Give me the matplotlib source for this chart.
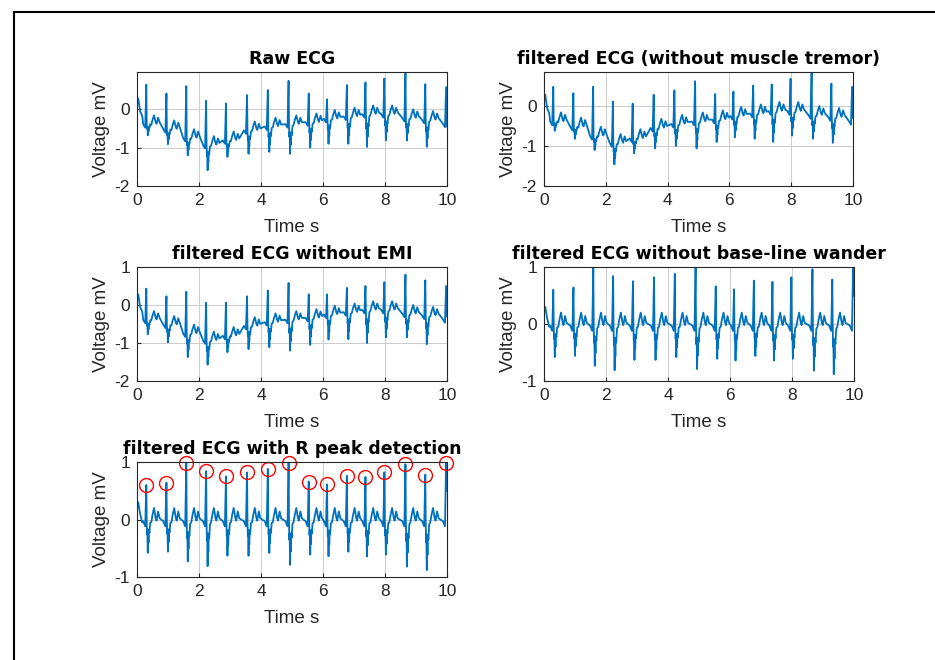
import numpy as np
import matplotlib.pyplot as plt
from matplotlib.lines import Line2D

plt.rcParams['font.family'] = ['Liberation Sans', 'DejaVu Sans']
plt.rcParams['axes.unicode_minus'] = False

# R peak times (s)
beat_t = [0.30, 0.95, 1.59, 2.23, 2.87, 3.55, 4.22, 4.89, 5.54, 6.13,
          6.77, 7.37, 7.98, 8.66, 9.30, 9.97]

# baseline-free ECG: R peak heights and S troughs (mV)
r_clean = [0.60, 0.64, 0.98, 0.84, 0.75, 0.82, 0.88, 0.99, 0.66, 0.61,
           0.76, 0.74, 0.82, 0.96, 0.78, 0.99]
s_clean = [-0.58, -0.56, -0.73, -0.81, -0.63, -0.63, -0.58, -0.79, -0.61, -0.64,
           -0.56, -0.64, -0.61, -0.82, -0.88, -0.60]

# baseline level of each beat (wander), raw / tremor / EMI panels
base_wander = [-0.36, -0.49, -0.72, -0.90, -0.78, -0.52, -0.42, -0.36, -0.31, -0.22,
               -0.16, -0.10, -0.10, -0.20, -0.25, -0.35]

# raw ECG peaks / troughs (mV)
r_raw = [0.64, 0.41, 0.60, 0.22, 0.15, 0.37, 0.50, 0.74, 0.41, 0.26,
         0.63, 0.70, 0.80, 0.97, 0.65, 0.58]
s_raw = [-0.68, -0.91, -1.20, -1.59, -1.24, -1.16, -1.11, -1.16, -1.00, -0.90,
         -0.90, -0.98, -0.81, -0.81, -0.98, -0.60]

# without muscle tremor
r_tremor = [0.48, 0.32, 0.48, 0.11, 0.06, 0.28, 0.39, 0.62, 0.30, 0.36,
            0.51, 0.54, 0.68, 0.83, 0.56, 0.48]
s_tremor = [-0.62, -0.82, -1.10, -1.46, -1.18, -1.06, -1.00, -1.06, -0.90, -0.78,
            -0.82, -0.90, -0.74, -0.82, -0.92, -0.50]

# without EMI
r_emi = [0.43, 0.23, 0.35, 0.06, 0.06, 0.23, 0.38, 0.58, 0.28, 0.28,
         0.45, 0.50, 0.60, 0.80, 0.65, 0.50]
s_emi = [-0.77, -0.98, -1.37, -1.57, -1.24, -1.16, -1.11, -1.20, -1.05, -0.91,
         -0.90, -1.00, -0.85, -0.85, -1.03, -0.50]

# one heartbeat, seconds from the R peak: fixed level, share of S depth
tmpl_dt = [-0.10, -0.035, 0.0, 0.014, 0.026, 0.034, 0.048, 0.060, 0.072, 0.086,
           0.100, 0.125, 0.16, 0.20, 0.25, 0.30, 0.33, 0.38, 0.43]
tmpl_v = [-0.03, -0.12, 0.0, -0.05, 0.0, 0.0, 0.0, 0.0, 0.0, 0.0,
          0.0, 0.0, -0.05, 0.08, 0.20, 0.03, -0.02, 0.14, 0.02]
tmpl_s = [0, 0, 0, 0, 0.45, 0.30, 1.0, 0.45, 0.70, 0.30,
          0.40, 0.10, 0, 0, 0, 0, 0, 0, 0]

# start of the record and the last sample at t = 10 s
lead_t = [0.0, 0.04, 0.10, 0.17]
lead_clean = [0.18, 0.30, 0.10, -0.05]
lead_raw = [0.22, 0.28, -0.05, -0.18]
end_clean = 0.50
end_raw = -0.45
end_filt = -0.30


def build(r_abs, s_abs, base, lead_v, end_v):
    t = list(lead_t)
    v = list(lead_v)
    for i, tr in enumerate(beat_t):
        for k, d in enumerate(tmpl_dt):
            tt = tr + d
            if tt > 9.98:
                continue
            if d == 0.0:
                val = r_abs[i]
            else:
                val = base[i] + tmpl_v[k] + tmpl_s[k] * (s_abs[i] - base[i])
            t.append(tt)
            v.append(val)
    t.append(10.0)
    v.append(end_v)
    return np.array(t), np.array(v)


zero = [0.0] * len(beat_t)
t_raw, v_raw = build(r_raw, s_raw, base_wander, lead_raw, end_raw)
t_trem, v_trem = build(r_tremor, s_tremor, base_wander, lead_raw, end_filt)
t_emi, v_emi = build(r_emi, s_emi, base_wander, lead_raw, end_filt)
t_cl, v_cl = build(r_clean, s_clean, zero, lead_clean, end_clean)

W, H = 935, 660
fig = plt.figure(figsize=(W / 100, H / 100), dpi=100)

# frame of the screenshot
fig.add_artist(Line2D([14 / W, 1], [1 - 12 / H, 1 - 12 / H], transform=fig.transFigure,
                      color='black', lw=1.5))
fig.add_artist(Line2D([14 / W, 14 / W], [0, 1 - 12 / H], transform=fig.transFigure,
                      color='black', lw=1.5))


def panel(left, top, right, bottom, t, v, title, ylim, yticks):
    ax = fig.add_axes([left / W, 1 - bottom / H, (right - left) / W, (bottom - top) / H])
    ax.plot(t, v, color='#0072BD', lw=1.3)
    ax.set_xlim(0, 10)
    ax.set_ylim(*ylim)
    ax.set_xticks(range(0, 11, 2))
    ax.set_yticks(yticks)
    ax.grid(True, color='#cccccc', lw=0.7)
    ax.set_axisbelow(True)
    for s in ax.spines.values():
        s.set_color('#262626')
        s.set_linewidth(0.8)
    ax.tick_params(direction='in', length=3, labelsize=12.5, colors='#262626', pad=5)
    ax.set_title(title, fontsize=12.5, fontweight='bold', pad=6,
                 family=['DejaVu Sans'])
    ax.set_xlabel('Time s', fontsize=13.5, labelpad=8, color='#262626')
    ax.set_ylabel('Voltage mV', fontsize=13.5, labelpad=3, color='#262626')
    return ax


panel(137, 72, 447, 186, t_raw, v_raw, 'Raw ECG', (-2, 0.97), [-2, -1, 0])
panel(544, 72, 853, 186, t_trem, v_trem, 'filtered ECG (without muscle tremor)',
      (-2, 0.85), [-2, -1, 0])
panel(137, 267, 447, 381, t_emi, v_emi, 'filtered ECG without EMI', (-2, 1), [-2, -1, 0, 1])
panel(544, 267, 854, 381, t_cl, v_cl, 'filtered ECG without base-line wander', (-1, 1), [-1, 0, 1])
ax5 = panel(137, 462, 447, 577, t_cl, v_cl, 'filtered ECG with R peak detection',
            (-1, 1), [-1, 0, 1])
ax5.plot(beat_t, r_clean, 'o', mfc='none', mec='red', ms=10, mew=1.0, clip_on=False)

fig.savefig('out.png', dpi=100)
